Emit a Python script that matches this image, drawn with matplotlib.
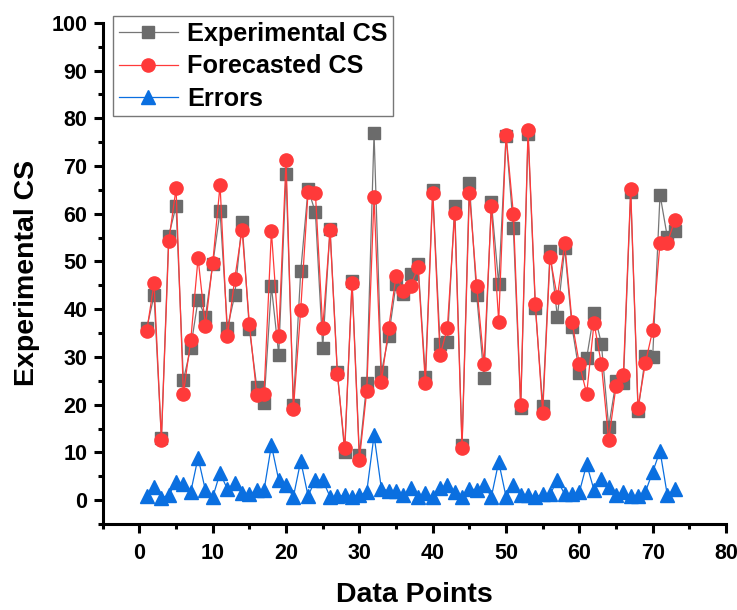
import matplotlib
matplotlib.use("Agg")
import matplotlib.pyplot as plt
from matplotlib.ticker import MultipleLocator

plt.rcParams['font.family'] = ['Liberation Sans', 'DejaVu Sans']
plt.rcParams['font.weight'] = 'bold'

data_points = list(range(1, 74))
experimental_cs = [36.0, 42.9, 13.0, 55.4, 61.6, 25.2, 31.9, 42.0, 38.4, 49.4,
                   60.5, 36.1, 42.9, 58.2, 35.8, 23.8, 20.4, 44.8, 30.5, 68.3,
                   20.0, 47.9, 65.2, 60.3, 31.9, 56.9, 26.8, 10.0, 46.0, 9.4,
                   24.5, 76.9, 26.8, 34.4, 45.3, 43.1, 47.3, 49.5, 25.9, 64.9,
                   32.8, 33.2, 61.7, 11.5, 66.4, 42.9, 25.6, 62.4, 45.3, 76.2,
                   57.0, 19.2, 76.7, 40.3, 19.7, 52.1, 38.4, 52.8, 36.3, 26.6,
                   29.8, 39.3, 32.8, 15.3, 24.9, 24.5, 64.5, 18.7, 30.1, 30.0,
                   64.0, 55.1, 56.3]
forecasted_cs = [35.4, 45.5, 12.6, 54.2, 65.3, 22.3, 33.5, 50.7, 36.5, 49.7,
                 66.0, 34.3, 46.4, 56.6, 37.0, 22.1, 22.3, 56.3, 34.4, 71.3,
                 19.0, 39.9, 64.5, 64.4, 36.0, 56.5, 26.4, 10.9, 45.5, 8.5,
                 22.8, 63.5, 24.8, 36.1, 47.0, 43.9, 44.9, 48.8, 24.5, 64.4,
                 30.3, 36.1, 60.1, 10.9, 64.4, 44.9, 28.5, 61.6, 37.4, 76.6,
                 60.0, 19.9, 77.6, 41.0, 18.3, 50.9, 42.5, 53.8, 37.4, 28.5,
                 22.3, 37.1, 28.5, 12.6, 23.9, 26.2, 65.2, 19.4, 28.7, 35.6,
                 53.9, 53.9, 58.6]
errors = [0.8, 2.8, 0.5, 1.0, 3.8, 3.3, 1.7, 8.9, 2.1, 0.6,
          5.7, 2.3, 3.6, 1.5, 1.2, 2.1, 2.1, 11.5, 4.2, 3.1,
          0.7, 8.2, 0.9, 4.2, 4.2, 0.7, 0.8, 1.0, 0.7, 1.0,
          1.7, 13.6, 2.4, 1.9, 1.9, 1.0, 2.5, 0.7, 1.4, 0.6,
          2.5, 3.2, 1.7, 0.6, 2.3, 2.2, 3.2, 0.7, 8.0, 0.7,
          3.1, 1.0, 1.0, 0.7, 1.2, 1.2, 4.2, 1.2, 1.2, 1.7,
          7.5, 2.1, 4.4, 2.8, 1.0, 1.8, 0.8, 0.9, 1.7, 5.9,
          10.3, 1.0, 2.4]

fig = plt.figure(figsize=(7.37, 6.10), dpi=100)
ax = fig.add_axes([0.1394, 0.141, 0.8457, 0.8216])

ax.plot(data_points, experimental_cs, color='#767676', lw=0.9, marker='s',
        markersize=8, markerfacecolor='#6b6b6b', markeredgecolor='#6b6b6b',
        label='Experimental CS')
ax.plot(data_points, forecasted_cs, color='#ff3a3a', lw=0.9, marker='o',
        markersize=9.5, markerfacecolor='#ff3a3a', markeredgecolor='#ff3a3a',
        label='Forecasted CS')
ax.plot(data_points, errors, color='#0a6fe0', lw=0.9, marker='^',
        markersize=10, markerfacecolor='#0a6fe0', markeredgecolor='#0a6fe0',
        label='Errors')

ax.set_xlim(-5, 80)
ax.set_ylim(-5, 100)
ax.xaxis.set_major_locator(MultipleLocator(10))
ax.xaxis.set_minor_locator(MultipleLocator(5))
ax.yaxis.set_major_locator(MultipleLocator(10))
ax.yaxis.set_minor_locator(MultipleLocator(5))

for s in ['top', 'right']:
    ax.spines[s].set_visible(False)
for s in ['left', 'bottom']:
    ax.spines[s].set_linewidth(2.2)
ax.tick_params(which='major', direction='out', length=6.5, width=2.2, labelsize=15.5)
ax.tick_params(which='minor', direction='out', length=3.6, width=2.2)
ax.tick_params(axis='x', which='major', pad=7)
ax.tick_params(axis='y', which='major', pad=4.5)
for lab in ax.get_xticklabels() + ax.get_yticklabels():
    lab.set_fontweight('bold')

ax.set_xlabel('Data Points', fontsize=20.5, fontweight='bold', labelpad=13)
ax.set_ylabel('Experimental CS', fontsize=20.5, fontweight='bold', labelpad=8)

leg = ax.legend(loc='upper left', bbox_to_anchor=(0.0165, 1.0126), fontsize=18.2,
                frameon=True, fancybox=False, edgecolor='#555555',
                handlelength=2.35, handletextpad=0.36, borderpad=0.22,
                labelspacing=0.33, borderaxespad=0)
leg.get_frame().set_linewidth(1.0)
for t in leg.get_texts():
    t.set_fontweight('bold')

fig.savefig('out.png', dpi=100)
